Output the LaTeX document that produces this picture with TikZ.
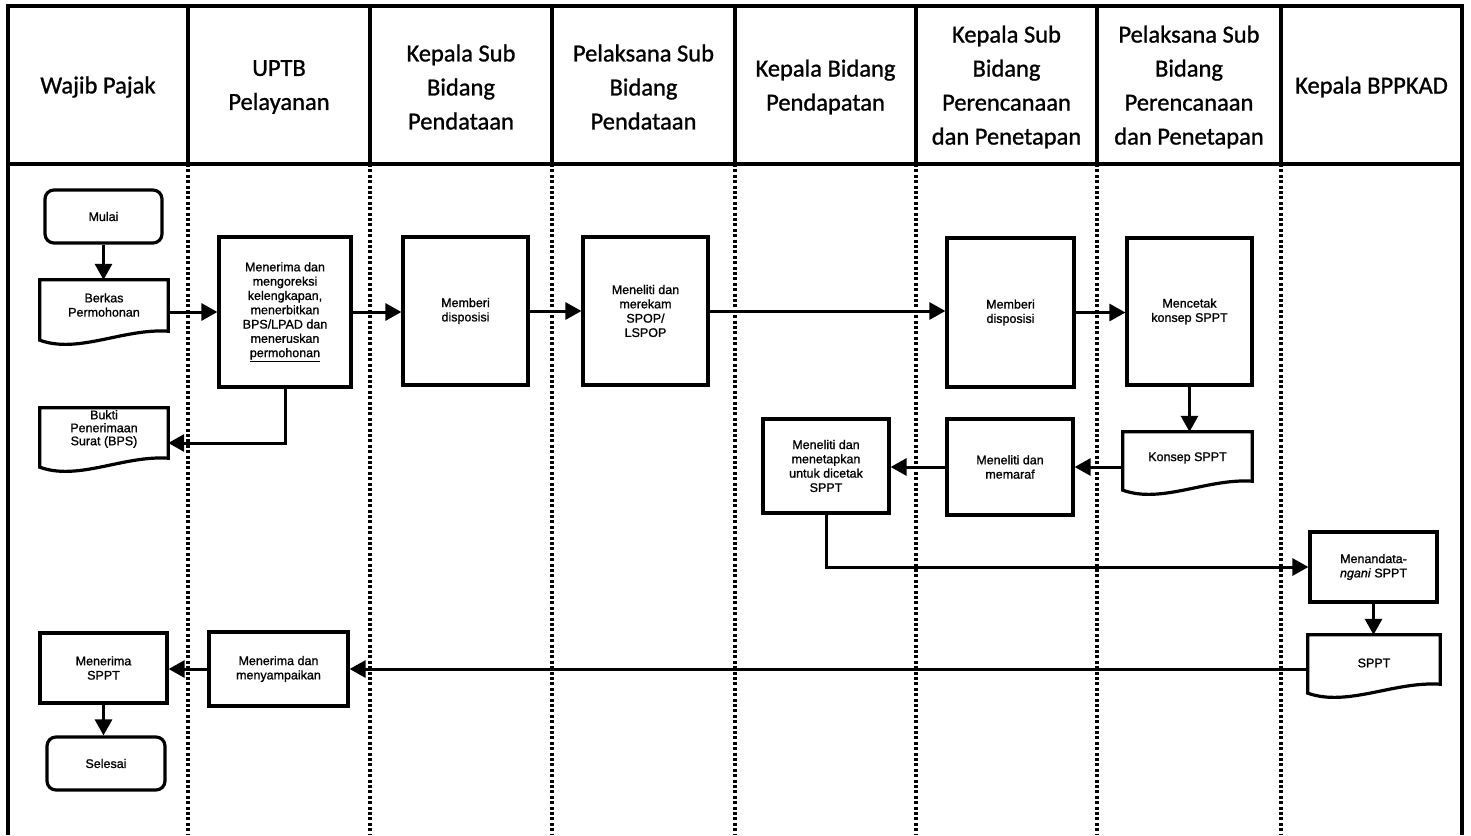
\documentclass[tikz,border=0pt]{standalone}
\usepackage{fontspec}
\setmainfont{Liberation Sans}
\newfontfamily\hdrfont[FakeBold=1.0]{Carlito}
\newfontfamily\flowfont[FakeBold=1.1]{Liberation Sans}
\usetikzlibrary{arrows.meta,calc}
\newcommand{\flowtxt}{\flowfont\fontsize{12.5}{14.3}\selectfont}
% document symbol: straight top and sides, wavy bottom edge
% #1 node name, #2 how far the sides reach below the node
\newcommand{\docedge}[2]{%
  \path ([yshift=-#2]#1.south west) coordinate (#1-sw)
        ([yshift=-#2]#1.south east) coordinate (#1-se);
  \draw[boxline] (#1.north west) -- (#1.north east) -- ([yshift=9pt]#1-se)
    .. controls ([yshift=12pt]$(#1-sw)!0.65!(#1-se)$) and ([yshift=-14pt]$(#1-sw)!0.3!(#1-se)$) .. (#1-sw) -- cycle;}
\begin{document}
\begin{tikzpicture}[x=1pt,y=-1pt,
  frame/.style={line width=3.4pt},
  lane/.style={line width=3.2pt, dash pattern=on 3pt off 2.4pt},
  hdr/.style={font=\hdrfont\fontsize{24.5}{34}\selectfont, align=center, inner sep=0pt},
  boxline/.style={line width=3.2pt, line join=miter},
  proc/.style={draw, boxline, inner sep=0pt, align=center, font=\flowtxt},
  term/.style={proc, rounded corners=9pt},
  doc/.style={inner sep=0pt, align=center, font=\flowtxt},
  conn/.style={line width=3pt, -{Triangle[length=16pt,width=17pt]}},
]
\useasboundingbox (0,0) rectangle (1471,835);

% lanes
\foreach \x in {188,370,552,735,916,1097,1281}
  \draw[lane] (\x,164) -- (\x,835);
\draw[frame] (8,164) -- (8,835);
\draw[frame] (1462,164) -- (1462,835);

% header row
\draw[frame] (8,6) rectangle (1462,164);
\foreach \x in {188,370,552,735,916,1097,1281}
  \draw[frame] (\x,6) -- (\x,164);

\node[hdr] (hWP)  at (98,87)     {Wajib Pajak};
\node[hdr] (hUP)  at (279,87)    {UPTB\\Pelayanan};
\node[hdr] (hKSD) at (461,87)    {Kepala Sub\\Bidang\\Pendataan};
\node[hdr] (hPSD) at (643.5,87)  {Pelaksana Sub\\Bidang\\Pendataan};
\node[hdr] (hKB)  at (825.5,87)  {Kepala Bidang\\Pendapatan};
\node[hdr] (hKSP) at (1006.5,87) {Kepala Sub\\Bidang\\Perencanaan\\dan Penetapan};
\node[hdr] (hPSP) at (1189,87)   {Pelaksana Sub\\Bidang\\Perencanaan\\dan Penetapan};
\node[hdr] (hBP)  at (1371.5,87) {Kepala BPPKAD};

% flow symbols
\node[term, minimum width=117pt, minimum height=53pt] (mulai) at (103.5,216.5) {Mulai};
\node[doc, minimum width=128pt, minimum height=50pt] (berkas) at (104,305) {Berkas\\Permohonan};
\docedge{berkas}{10pt}
\node[proc, minimum width=132pt, minimum height=150pt] (uptb) at (285,312)
  {Menerima dan\\mengoreksi\\kelengkapan,\\menerbitkan\\BPS/LPAD dan\\meneruskan\\\underline{permohonan}};
\node[doc, minimum width=128pt, minimum height=42pt, font=\flowfont\fontsize{12.5}{13}\selectfont] (bukti) at (104,429) {Bukti\\Penerimaan\\Surat (BPS)};
\docedge{bukti}{17pt}
\node[proc, minimum width=125pt, minimum height=148pt] (ksbpd) at (465.5,311) {Memberi\\disposisi};
\node[proc, minimum width=125pt, minimum height=148pt] (psbpd) at (645.5,311) {Meneliti dan\\merekam\\SPOP/\\LSPOP};
\node[proc, minimum width=127pt, minimum height=149pt] (ksbpp) at (1010.5,312.5) {Memberi\\disposisi};
\node[proc, minimum width=125pt, minimum height=147pt] (psbpp) at (1189.5,311.5) {Mencetak\\konsep SPPT};
\node[doc, minimum width=129pt, minimum height=52pt] (konsep) at (1187.5,458) {Konsep SPPT};
\docedge{konsep}{6pt}
\node[proc, minimum width=126pt, minimum height=96pt] (memaraf) at (1010,467) {Meneliti dan\\memaraf};
\node[proc, minimum width=126pt, minimum height=94pt] (menetapkan) at (826,466)
  {Meneliti dan\\menetapkan\\untuk dicetak\\SPPT};
\node[proc, minimum width=127pt, minimum height=70pt] (tanda) at (1373.5,567) {Menandata-\\\textit{ngani} SPPT};
\node[doc, minimum width=132pt, minimum height=56pt] (sppt) at (1374,663) {SPPT};
\docedge{sppt}{2pt}
\node[proc, minimum width=139pt, minimum height=74pt] (menyampaikan) at (278.5,669) {Menerima dan\\menyampaikan};
\node[proc, minimum width=127pt, minimum height=70pt] (terima) at (103.5,668) {Menerima\\SPPT};
\node[term, minimum width=118pt, minimum height=53pt] (selesai) at (106,763.5) {Selesai};

% connectors
\draw[conn] (mulai.south) -- (mulai.south |- berkas.north);
\draw[conn] (berkas.east |- uptb.west) -- (uptb.west);
\draw[conn] (uptb.east) -- (uptb.east -| ksbpd.west);
\draw[conn] (uptb.south) |- ([yshift=-14pt]bukti.east);
\draw[conn] (ksbpd.east) -- (ksbpd.east -| psbpd.west);
\draw[conn] (psbpd.east) -- (psbpd.east -| ksbpp.west);
\draw[conn] (ksbpp.east) -- (ksbpp.east -| psbpp.west);
\draw[conn] (psbpp.south) -- (psbpp.south |- konsep.north);
\draw[conn] (konsep.west |- memaraf.east) -- (memaraf.east);
\draw[conn] (memaraf.west) -- (memaraf.west -| menetapkan.east);
\draw[conn] (menetapkan.south) |- (tanda.west);
\draw[conn] (tanda.south) -- (tanda.south |- sppt.north);
\draw[conn] (sppt.west |- menyampaikan.east) -- (menyampaikan.east);
\draw[conn] (menyampaikan.west) -- (menyampaikan.west -| terima.east);
\draw[conn] (terima.south) -- (terima.south |- selesai.north);
\end{tikzpicture}
\end{document}
